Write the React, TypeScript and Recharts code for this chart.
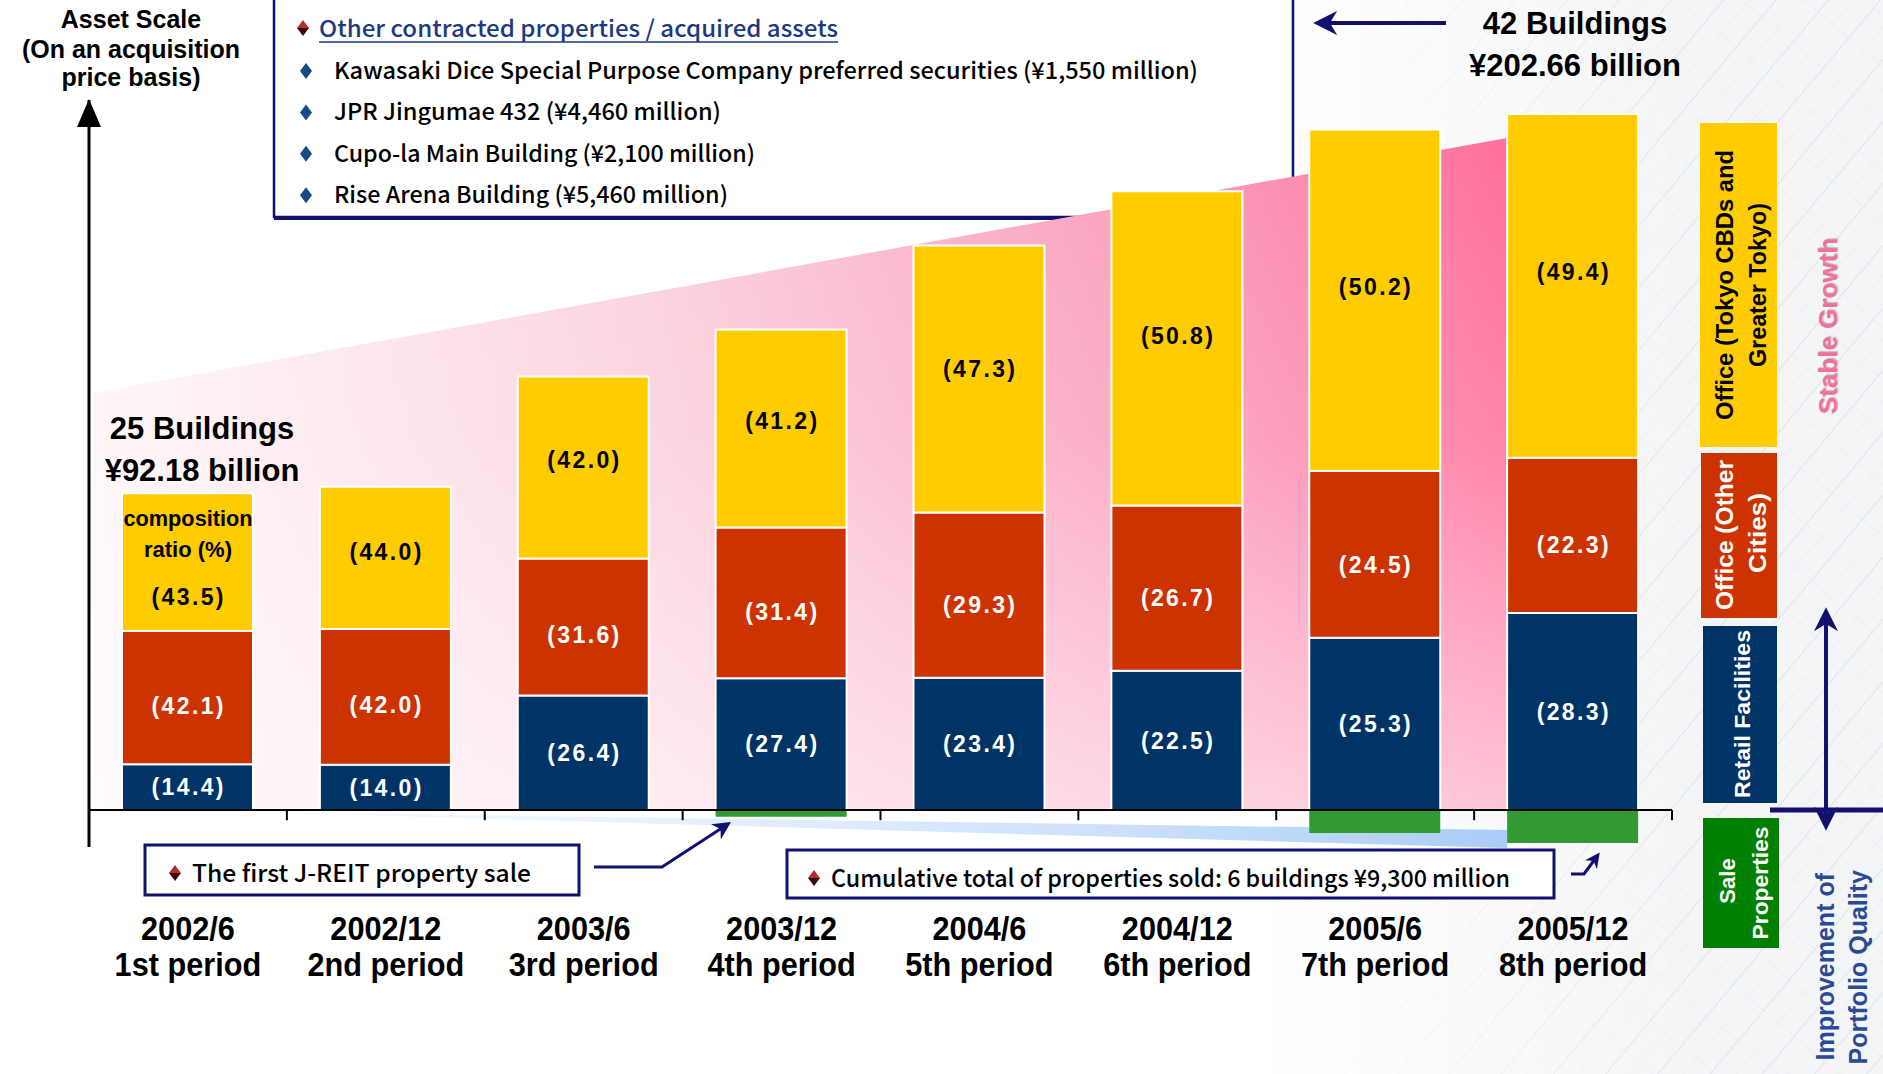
import { BarChart, Bar, XAxis, YAxis, ReferenceLine, LabelList } from 'recharts';

const W = 1883;
const H = 1074;

// acquisition-price basis, ¥ billion
const periods = ['2002/6', '2002/12', '2003/6', '2003/12', '2004/6', '2004/12', '2005/6', '2005/12'];
const periodNames = ['1st period', '2nd period', '3rd period', '4th period', '5th period', '6th period', '7th period', '8th period'];
const totalAssets = [92.18, 94.1, 126.2, 139.9, 164.3, 180.1, 198.1, 202.66];
// composition ratio (%)
const retailPct = [14.4, 14.0, 26.4, 27.4, 23.4, 22.5, 25.3, 28.3];
const otherCitiesPct = [42.1, 42.0, 31.6, 31.4, 29.3, 26.7, 24.5, 22.3];
const tokyoPct = [43.5, 44.0, 42.0, 41.2, 47.3, 50.8, 50.2, 49.4];
// properties sold (drawn below the axis)
const saleAmounts = [0, 0, 0, -2.0, 0, 0, -6.7, -9.6];

const otherAssets = [
  'Kawasaki Dice Special Purpose Company preferred securities (¥1,550 million)',
  'JPR Jingumae 432 (¥4,460 million)',
  'Cupo-la Main Building (¥2,100 million)',
  'Rise Arena Building (¥5,460 million)',
];

const YELLOW = '#ffcc00';
const RED = '#cc3300';
const NAVY = '#003366';
const GREEN = '#339933';
const INK = '#12126e';

const sans = "'Liberation Sans', Arial, sans-serif";
const cjk = "'Noto Sans CJK JP', 'Noto Sans', sans-serif";

const rows = periods.map((period, i) => ({
  period,
  retail: (totalAssets[i] * retailPct[i]) / 100,
  otherCities: (totalAssets[i] * otherCitiesPct[i]) / 100,
  tokyo: (totalAssets[i] * tokyoPct[i]) / 100,
  sale: saleAmounts[i],
}));

function segLabel(pcts: number[], fill: string, frac: number, firstFrac = frac) {
  return (props: any) => {
    const vb = props.viewBox ?? props;
    const { x, y, width, height } = vb;
    const index = props.index;
    if (!height || index == null) return null;
    const f = index === 0 ? firstFrac : frac;
    return (
      <text
        x={x + width / 2}
        y={y + height * f}
        dy="0.36em"
        textAnchor="middle"
        fill={fill}
        fontFamily={sans}
        fontWeight={700}
        fontSize={23}
        textLength={72}
        lengthAdjust="spacing"
      >
        {`(${pcts[index].toFixed(1)})`}
      </text>
    );
  };
}

function PeriodTick(props: any) {
  const { x, y, payload, index } = props;
  const i = index ?? periods.indexOf(payload.value);
  return (
    <g transform={`translate(${x},${y}) scale(0.93,1)`}>
      <text x={0} y={93} textAnchor="middle" fontFamily={sans} fontWeight={700} fontSize={33} fill="#000">
        {payload.value}
      </text>
      <text x={0} y={129} textAnchor="middle" fontFamily={sans} fontWeight={700} fontSize={33} fill="#000">
        {periodNames[i]}
      </text>
    </g>
  );
}

function AssetChart() {
  return (
    <BarChart
      width={W}
      height={H}
      data={rows}
      stackOffset="sign"
      barSize={131}
      margin={{ top: 100, right: 211, bottom: 67, left: 88 }}
    >
      <XAxis
        dataKey="period"
        axisLine={false}
        tickLine={false}
        tickSize={0}
        tickMargin={0}
        height={160}
        interval={0}
        tick={(p: any) => <PeriodTick {...p} />}
      />
      <YAxis
        width={1}
        domain={[-10.8, 206.7]}
        allowDataOverflow
        tick={false}
        tickLine={false}
        axisLine={{ stroke: '#000', strokeWidth: 3 }}
      />
      <Bar dataKey="retail" stackId="a" fill={NAVY} stroke="#fff" strokeWidth={2} isAnimationActive={false}>
        <LabelList dataKey="retail" content={segLabel(retailPct, '#fff', 0.5)} />
      </Bar>
      <Bar dataKey="otherCities" stackId="a" fill={RED} stroke="#fff" strokeWidth={2} isAnimationActive={false}>
        <LabelList dataKey="otherCities" content={segLabel(otherCitiesPct, '#fff', 0.56)} />
      </Bar>
      <Bar dataKey="tokyo" stackId="a" fill={YELLOW} stroke="#fff" strokeWidth={2} isAnimationActive={false}>
        <LabelList dataKey="tokyo" content={segLabel(tokyoPct, '#000', 0.46, 0.75)} />
      </Bar>
      <Bar dataKey="sale" stackId="a" fill={GREEN} isAnimationActive={false} />
      <ReferenceLine y={0} stroke="#000" strokeWidth={2} />
      {periods.map((p) => (
        <ReferenceLine
          key={`tick-${p}`}
          segment={[{ x: p, y: 0 }, { x: p, y: -3 }]}
          position="start"
          stroke="#000"
          strokeWidth={2}
        />
      ))}
      <ReferenceLine
        segment={[{ x: periods[periods.length - 1], y: 0 }, { x: periods[periods.length - 1], y: -3 }]}
        position="end"
        stroke="#000"
        strokeWidth={2}
      />
    </BarChart>
  );
}

function Bullet({ x, y }: { x: number; y: number }) {
  return (
    <g>
      <polygon points={`${x - 6},${y} ${x},${y - 8} ${x + 6},${y}`} fill="#b03030" />
      <polygon points={`${x - 6},${y} ${x + 6},${y} ${x},${y + 8}`} fill="#3a0a0a" />
    </g>
  );
}

function Backdrop() {
  return (
    <svg width={W} height={H} style={{ position: 'absolute', left: 0, top: 0 }}>
      <defs>
        <pattern id="bld" width="40" height="40" patternUnits="userSpaceOnUse" patternTransform="rotate(40)">
          <path d="M0 0 L0 40" stroke="#d3d8de" strokeWidth="1.5" />
          <path d="M0 0 L40 0" stroke="#e3e7eb" strokeWidth="1.2" />
          <path d="M20 0 L20 40" stroke="#e9ecef" strokeWidth="1" />
        </pattern>
        <linearGradient id="bldFade" gradientUnits="userSpaceOnUse" x1="1250" y1="0" x2="1700" y2="0">
          <stop offset="0" stopColor="#fff" stopOpacity="0" />
          <stop offset="1" stopColor="#fff" stopOpacity="0.85" />
        </linearGradient>
        <mask id="bldMask">
          <rect x={1200} y={0} width={683} height={H} fill="url(#bldFade)" />
        </mask>
        <linearGradient id="pinkH" x1="0" y1="0" x2="1" y2="0">
          <stop offset="0" stopColor="#fff7f9" />
          <stop offset="0.4" stopColor="#fbd0dc" />
          <stop offset="0.8" stopColor="#fb95b6" />
          <stop offset="1" stopColor="#ff6f9c" />
        </linearGradient>
        <linearGradient id="pinkV" x1="0" y1="0" x2="0" y2="1">
          <stop offset="0" stopColor="#fff" stopOpacity="0" />
          <stop offset="0.45" stopColor="#fff" stopOpacity="0.15" />
          <stop offset="1" stopColor="#fff" stopOpacity="0.6" />
        </linearGradient>
        <linearGradient id="blueW" x1="0" y1="0" x2="1" y2="0">
          <stop offset="0" stopColor="#dceaff" stopOpacity="0.2" />
          <stop offset="1" stopColor="#a9cdf7" />
        </linearGradient>
      </defs>
      <rect x={0} y={0} width={W} height={H} fill="#fff" />
      <g mask="url(#bldMask)">
        <rect x={1200} y={0} width={683} height={H} fill="#f1f3f5" />
        <rect x={1200} y={0} width={683} height={H} fill="url(#bld)" />
      </g>

      {/* other contracted properties box */}
      <rect x={274} y={-2} width={1019} height={219} fill="#fff" stroke={INK} strokeWidth={2.5} />
      <line x1={274} y1={219} x2={1294} y2={219} stroke={INK} strokeWidth={2} />
      <Bullet x={303} y={28} />
      <text x={319} y={37} fontFamily={cjk} fontWeight={500} fontSize={23} fill="#1b3a80" textLength={519} lengthAdjust="spacingAndGlyphs">
        Other contracted properties / acquired assets
      </text>
      <line x1={319} y1={42} x2={838} y2={42} stroke="#1b3a80" strokeWidth={1.5} />
      {otherAssets.map((t, i) => {
        const cy = 71 + i * 41.4;
        const widths = [864, 387, 421, 394];
        return (
          <g key={t}>
            <polygon points={`306,${cy - 8} 312,${cy} 306,${cy + 8} 300,${cy}`} fill="#184a86" />
            <text x={334} y={cy + 8} fontFamily={cjk} fontWeight={500} fontSize={23} fill="#000" textLength={widths[i]} lengthAdjust="spacingAndGlyphs">
              {t}
            </text>
          </g>
        );
      })}

      {/* stable growth wedge */}
      <polygon points="92,393 1507,138 1507,809 92,809" fill="url(#pinkH)" />
      <polygon points="92,393 1507,138 1507,809 92,809" fill="url(#pinkV)" />
      {/* sold properties wedge */}
      <polygon points="250,812 1507,830 1507,848" fill="url(#blueW)" />
    </svg>
  );
}

function Overlay() {
  const vt = (x: number, y: number, s: string, opts: any = {}) => (
    <text
      x={0}
      y={0}
      transform={`translate(${x},${y}) rotate(-90)`}
      textAnchor={opts.anchor ?? 'middle'}
      dy="0.35em"
      fontFamily={sans}
      fontWeight={700}
      fontSize={opts.size ?? 23}
      fill={opts.fill ?? '#000'}
      textLength={opts.len}
      lengthAdjust={opts.len ? 'spacingAndGlyphs' : undefined}
      style={opts.style}
    >
      {s}
    </text>
  );
  return (
    <svg width={W} height={H} style={{ position: 'absolute', left: 0, top: 0, pointerEvents: 'none' }}>
      <defs>
        <marker id="ah" viewBox="0 0 10 10" refX="8" refY="5" markerWidth="6" markerHeight="6" orient="auto-start-reverse">
          <path d="M0,0 L10,5 L0,10 L3,5 z" fill={INK} />
        </marker>
        <marker id="ah2" viewBox="0 0 10 10" refX="8" refY="5" markerWidth="5" markerHeight="5" orient="auto-start-reverse">
          <path d="M0,0 L10,5 L0,10 L3,5 z" fill={INK} />
        </marker>
      </defs>

      {/* axis title and arrow */}
      <g fontFamily={sans} fontWeight={700} fontSize={25} fill="#000" textAnchor="middle">
        <text x={131} y={28}>Asset Scale</text>
        <text x={131} y={58}>(On an acquisition</text>
        <text x={131} y={86}>price basis)</text>
      </g>
      <polygon points="89,99 77,127 101,127" fill="#000" />

      {/* first and last totals */}
      <g fontFamily={sans} fontWeight={700} fontSize={31} fill="#000" textAnchor="middle">
        <text x={202} y={439}>25 Buildings</text>
        <text x={202} y={481}>¥92.18 billion</text>
        <text x={1575} y={34}>42 Buildings</text>
        <text x={1575} y={76}>¥202.66 billion</text>
      </g>
      <line x1={1446} y1={23} x2={1318} y2={23} stroke={INK} strokeWidth={4} markerEnd="url(#ah)" />

      <g fontFamily={sans} fontWeight={700} fontSize={22} fill="#000" textAnchor="middle">
        <text x={188} y={526} textLength={129} lengthAdjust="spacingAndGlyphs">composition</text>
        <text x={188} y={557} textLength={88} lengthAdjust="spacing">ratio (%)</text>
      </g>

      {/* annotation boxes */}
      <rect x={145} y={845} width={434} height={50} fill="#fff" stroke={INK} strokeWidth={3} />
      <Bullet x={175} y={873} />
      <text x={192} y={882} fontFamily={cjk} fontWeight={500} fontSize={24} fill="#000" textLength={339} lengthAdjust="spacingAndGlyphs">
        The first J-REIT property sale
      </text>
      <polyline points="594,867 662,867 728,824" fill="none" stroke={INK} strokeWidth={3} markerEnd="url(#ah)" />

      <rect x={787} y={850} width={767} height={48} fill="#fff" stroke={INK} strokeWidth={3} />
      <Bullet x={814} y={878} />
      <text x={831} y={887} fontFamily={cjk} fontWeight={500} fontSize={24} fill="#000" textLength={679} lengthAdjust="spacingAndGlyphs">
        Cumulative total of properties sold: 6 buildings ¥9,300 million
      </text>
      <polyline points="1571,874 1584,874 1598,855" fill="none" stroke={INK} strokeWidth={3} markerEnd="url(#ah2)" />

      {/* legend */}
      <rect x={1700} y={123} width={77} height={324} fill={YELLOW} />
      {vt(1725, 285, 'Office (Tokyo CBDs and', { len: 270 })}
      {vt(1758, 285, 'Greater Tokyo)', { len: 164 })}
      <rect x={1701} y={453} width={76} height={165} fill={RED} />
      {vt(1725, 535, 'Office (Other', { fill: '#fff', len: 150 })}
      {vt(1758, 533, 'Cities)', { fill: '#fff', len: 80 })}
      <rect x={1703} y={626} width={74} height={177} fill={NAVY} />
      {vt(1742, 714, 'Retail Facilities', { fill: '#fff', len: 168, size: 22 })}
      <rect x={1703} y={818} width={76} height={130} fill="#008000" />
      {vt(1727, 881, 'Sale', { fill: '#fff', size: 22 })}
      {vt(1760, 883, 'Properties', { fill: '#fff', len: 113, size: 22 })}

      <text
        x={0}
        y={0}
        transform="translate(1828,326) rotate(-90)"
        textAnchor="middle"
        dy="0.35em"
        fontFamily={sans}
        fontWeight={700}
        fontSize={26}
        fill="#f4709c"
        style={{ textShadow: '1px 1px 1px rgba(120,120,120,0.5)' }}
      >
        Stable Growth
      </text>

      <line x1={1770} y1={810} x2={W} y2={810} stroke={INK} strokeWidth={5} />
      <line x1={1826} y1={612} x2={1826} y2={826} stroke={INK} strokeWidth={4} markerStart="url(#ah)" markerEnd="url(#ah)" />
      {vt(1825, 873, 'Improvement of', { anchor: 'end', size: 25, fill: '#2a4a94' })}
      {vt(1858, 870, 'Portfolio Quality', { anchor: 'end', size: 25, fill: '#2a4a94' })}
    </svg>
  );
}

export default function App() {
  return (
    <div style={{ position: 'absolute', left: 0, top: 0, width: W, height: H, overflow: 'hidden', background: '#fff' }}>
      <Backdrop />
      <div style={{ position: 'absolute', left: 0, top: 0 }}>
        <AssetChart />
      </div>
      <Overlay />
    </div>
  );
}
